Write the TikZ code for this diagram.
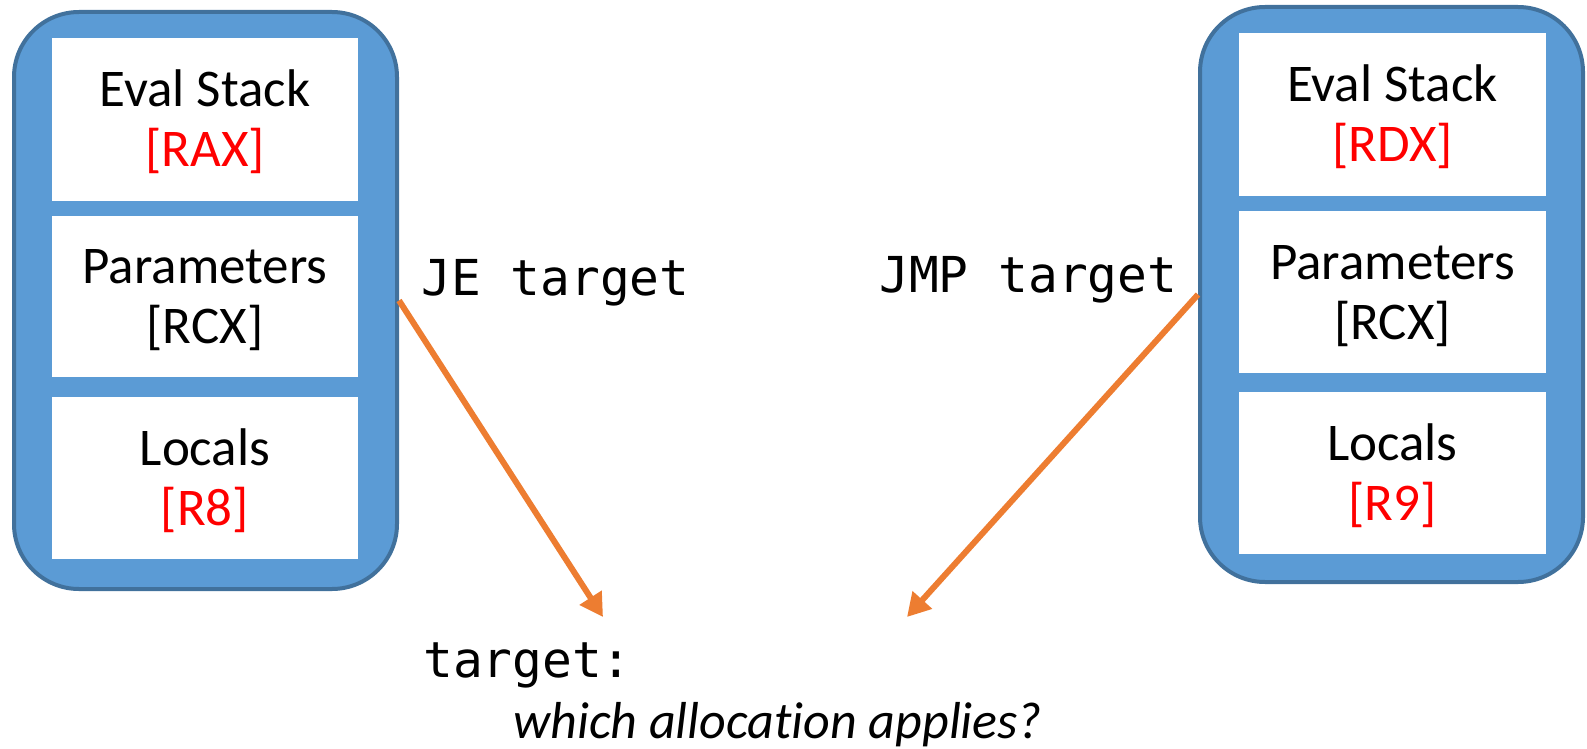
\documentclass[tikz,border=0pt]{standalone}
\usepackage{fontspec}
\setmainfont{Carlito}[Ligatures=NoCommon]
\newfontfamily\monof{DejaVu Sans Mono}
\usetikzlibrary{arrows.meta,calc}
\definecolor{boxfill}{HTML}{5B9BD5}
\definecolor{boxline}{HTML}{41719C}
\definecolor{arrowc}{HTML}{ED7D31}
\definecolor{regred}{HTML}{FF0000}
\tikzset{
  outerbox/.style={draw=boxline, line width=4pt, fill=boxfill, rounded corners=65pt, inner sep=0pt},
  cell/.style={fill=white, draw=none, inner sep=0pt, minimum width=306pt},
  celltext/.style={anchor=base, inner sep=0pt, font=\fontsize{53}{62}\selectfont},
  codetext/.style={anchor=base west, inner sep=0pt, font=\monof\fontsize{49.5}{58}\selectfont},
  notetext/.style={anchor=base west, inner sep=0pt, font=\itshape\fontsize{52}{62}\selectfont},
  jumparrow/.style={draw=arrowc, line width=6pt, -{Triangle[length=23pt,width=25pt]}},
}
\begin{document}
\begin{tikzpicture}[x=1pt,y=-1pt]
\useasboundingbox (0,0) rectangle (1587,749);
% outer containers
\node[outerbox, minimum width=383pt, minimum height=577pt] (lbox) at (205.5,300.5) {};
\node[outerbox, minimum width=383pt, minimum height=575pt] (rbox) at (1391.5,294.5) {};
% left cells
\node[cell, minimum height=163pt] (l1) at (205,119.5) {};
\node[cell, minimum height=161pt] (l2) at (205,296.5) {};
\node[cell, minimum height=162pt] (l3) at (205,478) {};
% right cells
\node[cell, minimum width=307pt, minimum height=163pt] (r1) at (1392.5,114.5) {};
\node[cell, minimum width=307pt, minimum height=162pt] (r2) at (1392.5,292) {};
\node[cell, minimum width=307pt, minimum height=162pt] (r3) at (1392.5,473) {};
% cell texts
\node[celltext] (l1a) at ($(l1.center)+(0,-13)$) {Eval Stack};
\node[celltext, text=regred] (l1b) at ($(l1.center)+(0,47)$) {[RAX]};
\node[celltext] (l2a) at ($(l2.center)+(0,-13)$) {Parameters};
\node[celltext] (l2b) at ($(l2.center)+(0,47)$) {[RCX]};
\node[celltext] (l3a) at ($(l3.center)+(0,-13)$) {Locals};
\node[celltext, text=regred] (l3b) at ($(l3.center)+(0,47)$) {[R8]};
\node[celltext] (r1a) at ($(r1.center)+(0,-13)$) {Eval Stack};
\node[celltext, text=regred] (r1b) at ($(r1.center)+(0,47)$) {[RDX]};
\node[celltext] (r2a) at ($(r2.center)+(0,-13)$) {Parameters};
\node[celltext] (r2b) at ($(r2.center)+(0,47)$) {[RCX]};
\node[celltext] (r3a) at ($(r3.center)+(0,-13)$) {Locals};
\node[celltext, text=regred] (r3b) at ($(r3.center)+(0,47)$) {[R9]};
% code texts
\node[codetext] (je) at (421,295) {JE target};
\node[codetext] (jmp) at (879,292) {JMP target};
\node[codetext] (tgt) at (423,677) {target:};
\node[notetext] (q) at (513,738) {which allocation applies?};
% arrows
\coordinate (tipL) at (603,617);
\coordinate (tipR) at (907,617);
\draw[jumparrow] (lbox.east) -- (tipL);
\draw[jumparrow] (rbox.west) -- (tipR);
\end{tikzpicture}
\end{document}
